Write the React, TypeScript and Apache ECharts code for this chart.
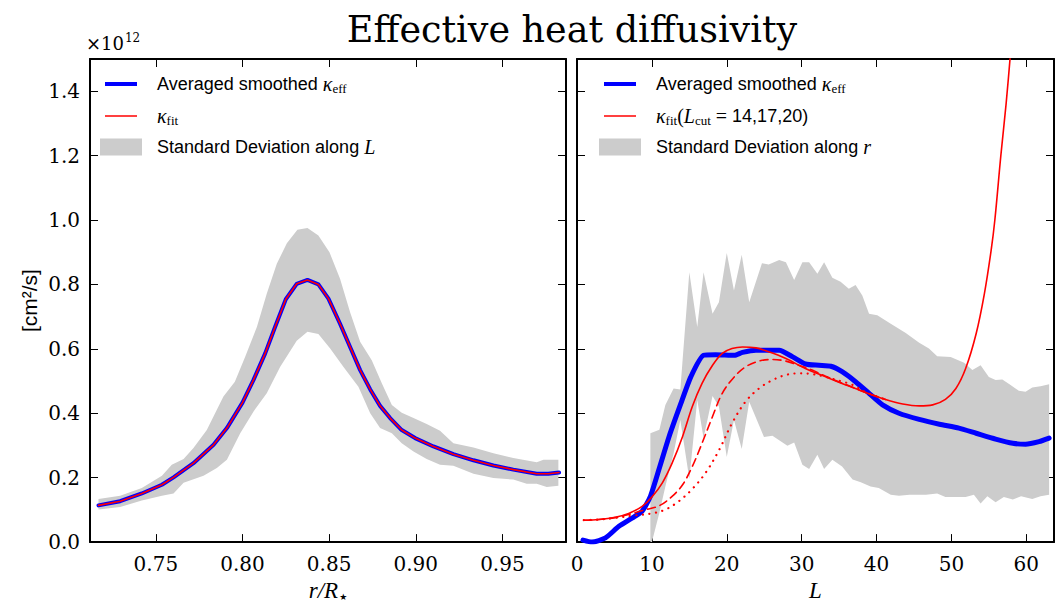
import React, { useEffect, useRef } from "react";
import * as echarts from "echarts";

// ---------- Left panel: kappa_eff vs r/R* (values in units of 1e12 cm^2/s) ----------
const leftR = [0.7169, 0.7294, 0.7419, 0.7535, 0.7602, 0.7717, 0.7833, 0.791, 0.8, 0.8063, 0.8131, 0.8188, 0.825, 0.8313, 0.8375, 0.8438, 0.8496, 0.8563, 0.8621, 0.8679, 0.8737, 0.8794, 0.8852, 0.8919, 0.8996, 0.9102, 0.9217, 0.9333, 0.9448, 0.9563, 0.9698, 0.9765, 0.9827];
const leftKappa = [0.114, 0.127, 0.151, 0.178, 0.201, 0.245, 0.302, 0.354, 0.433, 0.503, 0.586, 0.668, 0.754, 0.802, 0.814, 0.8, 0.756, 0.678, 0.606, 0.534, 0.474, 0.423, 0.385, 0.348, 0.323, 0.297, 0.273, 0.254, 0.238, 0.225, 0.212, 0.212, 0.216];
const leftFit = leftKappa; // the fit coincides with the averaged curve

const leftBandUpperR = [0.7169, 0.7294, 0.7419, 0.7535, 0.7592, 0.766, 0.7717, 0.7794, 0.789, 0.7956, 0.8015, 0.8083, 0.814, 0.8198, 0.8256, 0.8317, 0.8375, 0.8438, 0.8502, 0.8563, 0.8621, 0.8679, 0.8746, 0.8804, 0.8862, 0.8919, 0.8987, 0.9063, 0.914, 0.9217, 0.9333, 0.9448, 0.9563, 0.9698, 0.9737, 0.9823];
const leftBandUpper = [0.134, 0.144, 0.168, 0.206, 0.24, 0.258, 0.292, 0.348, 0.452, 0.498, 0.575, 0.668, 0.771, 0.864, 0.928, 0.97, 0.975, 0.952, 0.9, 0.818, 0.714, 0.622, 0.565, 0.493, 0.426, 0.402, 0.385, 0.367, 0.346, 0.307, 0.294, 0.276, 0.261, 0.248, 0.256, 0.256];
const leftBandLowerR = [0.7169, 0.7294, 0.7419, 0.7535, 0.7602, 0.766, 0.7775, 0.7852, 0.791, 0.7987, 0.8063, 0.814, 0.8217, 0.8313, 0.8375, 0.8438, 0.8506, 0.8583, 0.8669, 0.8737, 0.8794, 0.8862, 0.8919, 0.8987, 0.9063, 0.914, 0.9217, 0.9333, 0.9448, 0.9563, 0.964, 0.9698, 0.9756, 0.9823];
const leftBandLower = [0.101, 0.109, 0.129, 0.144, 0.151, 0.184, 0.206, 0.23, 0.256, 0.338, 0.405, 0.462, 0.544, 0.625, 0.653, 0.646, 0.601, 0.544, 0.482, 0.4, 0.354, 0.338, 0.307, 0.281, 0.258, 0.24, 0.237, 0.212, 0.199, 0.194, 0.181, 0.181, 0.171, 0.175];

// ---------- Right panel: kappa_eff vs L ----------
const rightL = [0.8, 2.0, 3.8, 5.6, 7.4, 8.7, 9.8, 11.0, 12.3, 13.8, 15.2, 16.9, 18.5, 21.0, 22.1, 23.9, 27.0, 28.8, 30.5, 32.3, 33.9, 35.4, 37.2, 39.0, 40.8, 43.0, 45.7, 48.4, 51.0, 53.3, 55.9, 58.2, 59.9, 61.7, 63.05];
const rightKappa = [0.006, 0.0, 0.013, 0.049, 0.075, 0.096, 0.142, 0.23, 0.328, 0.426, 0.513, 0.58, 0.582, 0.58, 0.589, 0.596, 0.596, 0.575, 0.553, 0.549, 0.546, 0.529, 0.498, 0.462, 0.426, 0.4, 0.381, 0.366, 0.354, 0.338, 0.32, 0.307, 0.304, 0.312, 0.323];

// fit with L_cut = 14 (solid)
const fit14L = [0.9, 2.9, 5.1, 6.9, 8.7, 10.0, 11.4, 12.7, 14.1, 15.4, 16.7, 18.1, 19.4, 20.7, 22.1, 23.9, 25.6, 27.9, 30.5, 33.2, 35.9, 38.6, 41.2, 43.5, 45.7, 47.5, 49.2, 50.6, 51.9, 53.3, 54.4, 55.3, 55.8, 56.6, 57.3, 57.9, 58.4];
const fit14 = [0.068, 0.07, 0.077, 0.089, 0.111, 0.14, 0.184, 0.245, 0.328, 0.421, 0.493, 0.549, 0.586, 0.601, 0.606, 0.603, 0.591, 0.57, 0.539, 0.513, 0.488, 0.464, 0.443, 0.429, 0.423, 0.426, 0.443, 0.477, 0.539, 0.647, 0.771, 0.905, 1.0, 1.2, 1.36, 1.52, 1.66];
// fit with L_cut = 17 (dashed)
const fit17L = [0.9, 2.9, 5.1, 6.9, 9.2, 11.0, 12.7, 14.1, 15.4, 16.7, 18.1, 19.4, 21.0, 22.5, 24.3, 26.1, 27.9, 29.6, 31.4, 33.2, 35.9, 38.6, 41.2];
const fit17 = [0.068, 0.07, 0.076, 0.086, 0.101, 0.113, 0.142, 0.178, 0.235, 0.307, 0.39, 0.462, 0.513, 0.544, 0.562, 0.567, 0.562, 0.549, 0.534, 0.515, 0.489, 0.464, 0.443];
// fit with L_cut = 20 (dotted)
const fit20L = [0.9, 2.9, 5.1, 7.4, 10.0, 11.8, 13.6, 15.4, 17.2, 19.0, 20.7, 22.5, 24.3, 26.1, 27.9, 29.6, 31.4, 33.2, 35.0, 36.8, 38.6, 41.2];
const fit20 = [0.068, 0.07, 0.075, 0.082, 0.089, 0.101, 0.127, 0.165, 0.216, 0.287, 0.369, 0.436, 0.477, 0.503, 0.519, 0.524, 0.522, 0.513, 0.501, 0.488, 0.465, 0.443];

const rightBandUpperL = [9.8, 11.0, 11.8, 12.9, 13.8, 15.0, 16.06, 16.9, 18.1, 18.95, 20.0, 20.96, 22.0, 23.0, 24.7, 25.6, 27.0, 27.9, 29.0, 30.1, 31.0, 32.1, 33.0, 34.1, 35.2, 36.3, 37.2, 38.1, 39.0, 40.1, 41.9, 43.9, 45.7, 47.0, 48.1, 49.9, 51.7, 52.8, 53.9, 55.0, 55.9, 56.8, 57.9, 59.0, 59.9, 60.8, 61.9, 63.05];
const rightBandUpper = [0.338, 0.349, 0.426, 0.477, 0.474, 0.838, 0.668, 0.838, 0.709, 0.745, 0.898, 0.781, 0.892, 0.745, 0.866, 0.862, 0.876, 0.869, 0.814, 0.869, 0.869, 0.833, 0.869, 0.821, 0.808, 0.787, 0.798, 0.766, 0.709, 0.704, 0.678, 0.649, 0.619, 0.601, 0.577, 0.575, 0.557, 0.534, 0.549, 0.513, 0.503, 0.505, 0.488, 0.47, 0.467, 0.48, 0.484, 0.49];
const rightBandLowerL = [9.8, 10.0, 11.0, 11.8, 12.9, 13.8, 15.0, 16.06, 16.9, 18.1, 18.95, 20.0, 20.96, 22.0, 23.0, 24.97, 26.1, 28.1, 29.0, 30.1, 31.0, 32.1, 33.0, 34.1, 35.4, 36.8, 37.9, 39.2, 40.3, 41.9, 43.0, 44.4, 46.6, 48.1, 49.2, 51.9, 53.0, 53.9, 54.8, 55.9, 57.0, 58.2, 59.3, 60.8, 61.9, 63.05];
const rightBandLower = [0.0, 0.0, 0.091, 0.173, 0.276, 0.379, 0.196, 0.441, 0.323, 0.454, 0.421, 0.264, 0.379, 0.289, 0.436, 0.326, 0.33, 0.299, 0.309, 0.24, 0.227, 0.271, 0.227, 0.256, 0.235, 0.194, 0.186, 0.173, 0.168, 0.147, 0.144, 0.147, 0.147, 0.151, 0.14, 0.14, 0.147, 0.12, 0.142, 0.124, 0.14, 0.132, 0.142, 0.134, 0.142, 0.147];

// ---------- Axes ----------
const yTicks = [0.0, 0.2, 0.4, 0.6, 0.8, 1.0, 1.2, 1.4];
const leftTicks = [0.75, 0.8, 0.85, 0.9, 0.95];
const rightTicks = [0, 10, 20, 30, 40, 50, 60];
const leftRange = [0.712, 0.9867];
const rightRange = [0, 63.7];
const yRange = [0, 1.5];

const zip = (xs: number[], ys: number[]) => xs.map((x, i) => [x, ys[i]]);
const inList = (list: number[], v: number) => list.some((t) => Math.abs(t - v) < 1e-9);

const SERIF = "'DejaVu Serif', 'Liberation Serif', serif";
const MATH = "'Liberation Serif', 'DejaVu Serif', serif";
const SANS = "'Liberation Sans', Arial, sans-serif";

function bandSeries(name: string, xi: number, ux: number[], uy: number[], lx: number[], ly: number[]) {
  return {
    name,
    type: "custom",
    xAxisIndex: xi,
    yAxisIndex: xi,
    coordinateSystem: "cartesian2d",
    silent: true,
    clip: true,
    data: [[ux[0], uy[0]]],
    renderItem: (_params: any, api: any) => {
      const pts: number[][] = [];
      for (let i = 0; i < ux.length; i++) pts.push(api.coord([ux[i], uy[i]]));
      for (let i = lx.length - 1; i >= 0; i--) pts.push(api.coord([lx[i], ly[i]]));
      return {
        type: "polygon",
        shape: { points: pts },
        style: { fill: "#cccccc", stroke: "none" },
      };
    },
    z: 1,
  };
}

function lineSeries(name: string, xi: number, data: number[][], color: string, width: number, type: any, z: number, smooth: any = false) {
  return {
    name,
    type: "line",
    xAxisIndex: xi,
    yAxisIndex: xi,
    data,
    showSymbol: false,
    symbol: "none",
    smooth,
    clip: true,
    lineStyle: { color, width, type, cap: "round", join: "round" },
    z,
  };
}

const tickStyle = { show: true, inside: true, length: 8, lineStyle: { color: "#000", width: 1 } };
const lineStyleAxis = { show: true, onZero: false, lineStyle: { color: "#000", width: 2 } };

function xAxisBase(gridIndex: number, range: number[], position: string, showLabels: boolean, ticks: number[], digits: number, extra: any = {}) {
  return {
    type: "value",
    gridIndex,
    position,
    min: range[0],
    max: range[1],
    axisLine: lineStyleAxis,
    axisTick: tickStyle,
    splitLine: { show: false },
    axisLabel: {
      show: showLabels,
      showMinLabel: true,
      showMaxLabel: false,
      margin: 12,
      fontFamily: SERIF,
      fontSize: 20,
      color: "#000",
      formatter: (v: number) => (inList(ticks, v) ? v.toFixed(digits) : ""),
    },
    ...extra,
  };
}

function yAxisBase(gridIndex: number, position: string, showLabels: boolean, extra: any = {}) {
  return {
    type: "value",
    gridIndex,
    position,
    min: yRange[0],
    max: yRange[1],
    interval: 0.2,
    axisLine: lineStyleAxis,
    axisTick: tickStyle,
    splitLine: { show: false },
    axisLabel: {
      show: showLabels,
      showMaxLabel: false,
      margin: 10,
      fontFamily: SERIF,
      fontSize: 20,
      color: "#000",
      formatter: (v: number) => (inList(yTicks, v) ? v.toFixed(1) : ""),
    },
    ...extra,
  };
}

function legendGraphic(x0: number, labels: string[], rich: any) {
  const rows = [84, 116, 147];
  const iconL = x0 - 57;
  const children: any[] = [
    { type: "line", shape: { x1: iconL + 5, y1: rows[0], x2: iconL + 37, y2: rows[0] }, style: { stroke: "#0000ff", lineWidth: 4 } },
    { type: "line", shape: { x1: iconL + 5, y1: rows[1], x2: iconL + 37, y2: rows[1] }, style: { stroke: "#ff0000", lineWidth: 1.5 } },
    { type: "rect", shape: { x: iconL, y: rows[2] - 8.5, width: 42, height: 17 }, style: { fill: "#cccccc" } },
  ];
  labels.forEach((t, i) => {
    children.push({
      type: "text",
      x: x0,
      y: rows[i],
      style: { text: t, rich, verticalAlign: "middle", align: "left", fontFamily: SANS, fontSize: 18, fill: "#000" },
    });
  });
  return { type: "group", children };
}

export default function App() {
  const ref = useRef<HTMLDivElement>(null);
  useEffect(() => {
    if (!ref.current) return;
    const chart = echarts.init(ref.current, undefined, { renderer: "svg" });
    const rich = {
      t: { fontFamily: SANS, fontSize: 18, color: "#000" },
      k: { fontFamily: MATH, fontStyle: "italic", fontSize: 20, color: "#000" },
      s: { fontFamily: MATH, fontSize: 13, color: "#000", padding: [9, 0, 0, 0] },
      m: { fontFamily: MATH, fontSize: 20, color: "#000" },
      i: { fontFamily: MATH, fontStyle: "italic", fontSize: 20, color: "#000" },
    };
    const option: any = {
      animation: false,
      backgroundColor: "#ffffff",
      title: {
        text: "Effective heat diffusivity",
        left: 567,
        top: 6,
        textAlign: "center",
        textStyle: { fontFamily: SERIF, fontWeight: "normal", fontSize: 36.5, color: "#000" },
      },
      grid: [
        { left: 90, top: 59, width: 476, height: 484 },
        { left: 577, top: 59, width: 477, height: 484 },
      ],
      xAxis: [
        xAxisBase(0, leftRange, "bottom", true, leftTicks, 2, {
          splitNumber: 5,
          axisLabel: {
            show: true,
            showMinLabel: false,
            showMaxLabel: false,
            margin: 12,
            fontFamily: SERIF,
            fontSize: 20,
            color: "#000",
            formatter: (v: number) => (inList(leftTicks, v) ? v.toFixed(2) : ""),
          },
          name: "{i|r/R}{s|★}",
          nameLocation: "middle",
          nameGap: 36,
          nameTextStyle: {
            rich: {
              i: { fontFamily: MATH, fontStyle: "italic", fontSize: 23, color: "#000" },
              s: { fontFamily: "'DejaVu Sans', sans-serif", fontSize: 9, color: "#000", padding: [12, 0, 0, 1] },
            },
          },
        }),
        xAxisBase(1, rightRange, "bottom", true, rightTicks, 0, {
          interval: 10,
          name: "L",
          nameLocation: "middle",
          nameGap: 36,
          nameTextStyle: { fontFamily: MATH, fontStyle: "italic", fontSize: 23, color: "#000" },
        }),
        xAxisBase(0, leftRange, "top", false, leftTicks, 2, { splitNumber: 5 }),
        xAxisBase(1, rightRange, "top", false, rightTicks, 0, { interval: 10 }),
      ],
      yAxis: [
        yAxisBase(0, "left", true, {
          name: "[cm²/s]",
          nameLocation: "middle",
          nameGap: 50,
          nameRotate: 90,
          nameTextStyle: { fontFamily: SANS, fontSize: 21, color: "#000" },
        }),
        yAxisBase(1, "left", false),
        yAxisBase(0, "right", false),
        yAxisBase(1, "right", false),
      ],
      graphic: [
        {
          type: "text",
          left: 86,
          top: 32,
          style: {
            text: "{a|×10}{b|12}",
            rich: {
              a: { fontFamily: SERIF, fontSize: 18, color: "#000" },
              b: { fontFamily: SERIF, fontSize: 12, color: "#000", padding: [0, 0, 10, 1] },
            },
          },
        },
        legendGraphic(157, [
          "{t|Averaged smoothed }{k|κ}{s|eff}",
          "{k|κ}{s|fit}",
          "{t|Standard Deviation along }{i|L}",
        ], rich),
        legendGraphic(656, [
          "{t|Averaged smoothed }{k|κ}{s|eff}",
          "{k|κ}{s|fit}{m|(}{i|L}{s|cut}{m| = }{t|14,17,20)}",
          "{t|Standard Deviation along }{i|r}",
        ], rich),
      ],
      series: [
        bandSeries("Standard Deviation along L", 0, leftBandUpperR, leftBandUpper, leftBandLowerR, leftBandLower),
        lineSeries("Averaged smoothed κeff (r)", 0, zip(leftR, leftKappa), "#0000ff", 4, "solid", 3),
        lineSeries("κfit (r)", 0, zip(leftR, leftFit), "#ff0000", 1.6, "solid", 4),
        bandSeries("Standard Deviation along r", 1, rightBandUpperL, rightBandUpper, rightBandLowerL, rightBandLower),
        lineSeries("Averaged smoothed κeff (L)", 1, zip(rightL, rightKappa), "#0000ff", 5, "solid", 3, 0.2),
        lineSeries("κfit Lcut=14", 1, zip(fit14L, fit14), "#ff0000", 1.6, "solid", 4, 0.35),
        lineSeries("κfit Lcut=17", 1, zip(fit17L, fit17), "#ff0000", 1.6, [8, 5], 4, 0.35),
        lineSeries("κfit Lcut=20", 1, zip(fit20L, fit20), "#ff0000", 2.2, [0.1, 6.5], 4, 0.35),
      ],
    };
    chart.setOption(option);
    return () => chart.dispose();
  }, []);
  return (
    <div
      ref={ref}
      style={{ position: "fixed", left: 0, top: 0, width: 1059, height: 607, background: "#fff" }}
    />
  );
}
